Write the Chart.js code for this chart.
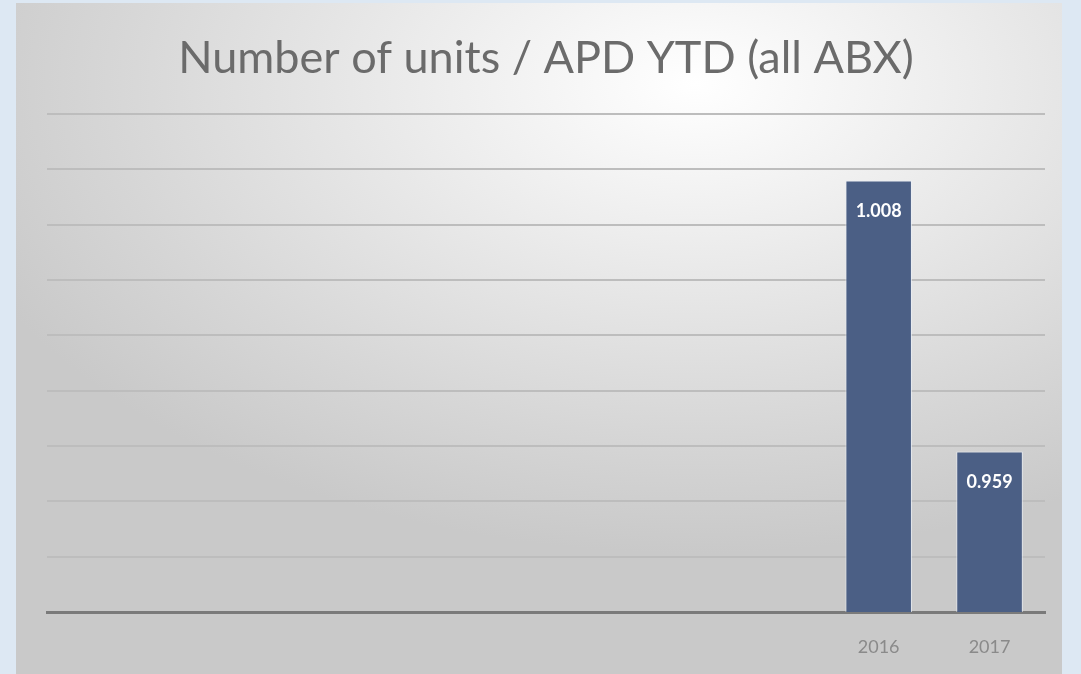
<!DOCTYPE html>
<html>
<head>
<meta charset="utf-8">
<script src="https://cdn.jsdelivr.net/npm/chart.js@4"></script>
<style>
  html, body { margin: 0; padding: 0; }
  body { width: 1081px; height: 674px; background: #dde8f3; position: relative; overflow: hidden; }
  #panel {
    position: absolute; left: 16px; top: 3px; width: 1046px; height: 671px;
    background: radial-gradient(ellipse 75% 70% at 65% 12%, #ffffff 0%, #ececec 35%, #d6d6d6 75%, #c9c9c9 100%);
  }
</style>
</head>
<body>
<div id="panel"><canvas id="chart" width="1046" height="671"></canvas></div>
<script>
const years = ["", "", "", "", "", "", "", "2016", "2017"];
const units = [null, null, null, null, null, null, null, 1.008, 0.959];
const valueLabels = ["", "", "", "", "", "", "", "1.008", "0.959"];

// white value labels inside the top of each bar
const barLabels = {
  id: "barLabels",
  afterDatasetsDraw(chart) {
    const ctx = chart.ctx;
    const meta = chart.getDatasetMeta(0);
    ctx.save();
    ctx.fillStyle = "#ffffff";
    ctx.font = "bold 18px Lato";
    ctx.textAlign = "center";
    ctx.textBaseline = "middle";
    meta.data.forEach((bar, i) => {
      if (units[i] == null) return;
      ctx.fillText(valueLabels[i], bar.x, bar.y + 31);
    });
    ctx.restore();
  }
};

new Chart(document.getElementById("chart"), {
  type: "bar",
  data: {
    labels: years,
    datasets: [{
      data: units,
      backgroundColor: "#4b5f85",
      borderColor: "rgba(235,240,248,0.8)",
      borderWidth: 1,
      categoryPercentage: 1,
      barPercentage: 0.6
    }]
  },
  options: {
    responsive: false,
    animation: false,
    layout: { padding: { left: 31, right: 17, top: 0, bottom: 0 } },
    plugins: {
      legend: { display: false },
      tooltip: { enabled: false },
      title: {
        display: true,
        text: "Number of units / APD YTD (all ABX)",
        color: "#6b6b6b",
        font: { family: "Lato", size: 45, weight: "normal" },
        padding: { top: 28, bottom: 29 }
      }
    },
    scales: {
      x: {
        grid: { display: false },
        border: { display: true, color: "#7a7a7a", width: 3 },
        ticks: {
          color: "#8a8a8a",
          font: { family: "Lato", size: 18 },
          padding: 16,
          autoSkip: false,
          maxRotation: 0
        },
        afterFit(scale) { scale.height = 62; }
      },
      y: {
        min: 0.93,
        max: 1.02,
        grid: { color: "#bdbdbd", lineWidth: 2, drawTicks: false },
        border: { display: false },
        ticks: { display: false, stepSize: 0.01 }
      }
    }
  },
  plugins: [barLabels]
});
</script>
</body>
</html>
